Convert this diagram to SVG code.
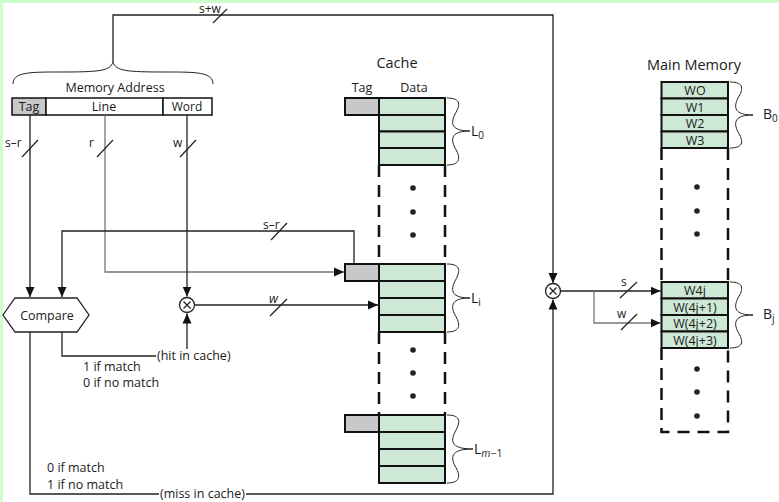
<svg xmlns="http://www.w3.org/2000/svg" width="779" height="502" viewBox="0 0 779 502">
<defs>
<marker id="ah" markerUnits="userSpaceOnUse" markerWidth="10" markerHeight="10" viewBox="0 0 10 10" refX="10" refY="5" orient="auto">
<path d="M0,0.5 L10,5 L0,9.5 Z" fill="#111"/>
</marker>
<style>
text{font-family:"Open Sans","Liberation Sans",sans-serif;fill:#1a1a1a;}
.t12{font-size:12.5px;}
.t11{font-size:12px;}
.t14{font-size:14.5px;}
.lb{font-size:14px;}
.mid{text-anchor:middle;}
.c{fill:none;stroke:#222;stroke-width:1.3;}
.g{fill:none;stroke:#777;stroke-width:1.3;}
.sl{fill:none;stroke:#222;stroke-width:1.2;}
.cell{fill:#cde8d5;stroke:#111;stroke-width:2;}
.tag{fill:#c8c8cb;stroke:#111;stroke-width:2;}
.dash{fill:none;stroke:#111;stroke-width:2.5;stroke-dasharray:12 8;}
.br{fill:none;stroke:#222;stroke-width:1;}
.dot{fill:#222;}
</style>
</defs>
<rect x="0" y="0" width="779" height="502" fill="#fff"/>
<rect x="0" y="0" width="3" height="502" fill="#ccffcc"/>
<rect x="0" y="0" width="779" height="3" fill="#ccffcc"/>

<g id="memory-address">
<path class="br" d="M13,84 C13,72 30,72 60,72 C100,72 110,71 113,62 C116,71 126,72 166,72 C196,72 213,72 213,84" stroke-width="1.3"/>
<text class="t12 mid" x="115" y="92">Memory Address</text>
<rect x="12" y="98" width="34" height="17" fill="#c8c8cb" stroke="#111" stroke-width="1.5"/>
<rect x="46" y="98" width="117" height="17" fill="#fff" stroke="#111" stroke-width="1.5"/>
<rect x="163" y="98" width="49" height="17" fill="#fff" stroke="#111" stroke-width="1.5"/>
<text class="t12 mid" x="29" y="111">Tag</text>
<text class="t12 mid" x="104" y="111">Line</text>
<text class="t11 mid" x="187" y="111">Word</text>
</g>

<g id="compare">
<path d="M3,315 L15,298 L77,298 L89,315 L77,332 L15,332 Z" fill="#fff" stroke="#222" stroke-width="1.3"/>
<text class="t12 mid" x="47" y="320">Compare</text>
</g>

<g id="mux1">
<circle cx="187" cy="305" r="7.5" fill="#fff" stroke="#222" stroke-width="1.3"/>
<path d="M183.5,301.5 L190.5,308.5 M190.5,301.5 L183.5,308.5" stroke="#222" stroke-width="1.2"/>
</g>

<g id="mux2">
<circle cx="553" cy="291" r="7.5" fill="#fff" stroke="#222" stroke-width="1.3"/>
<path d="M549.5,287.5 L556.5,294.5 M556.5,287.5 L549.5,294.5" stroke="#222" stroke-width="1.2"/>
</g>

<g id="cache">
<text class="t14 mid" x="397" y="68">Cache</text>
<text class="t12 mid" x="362" y="92">Tag</text>
<text class="t12 mid" x="414" y="92">Data</text>
<rect class="tag" x="345" y="98" width="34" height="17"/>
<rect class="cell" x="379" y="98" width="66" height="17"/>
<rect class="cell" x="379" y="115" width="66" height="16.5"/>
<rect class="cell" x="379" y="131.5" width="66" height="16.5"/>
<rect class="cell" x="379" y="148" width="66" height="17"/>
<path class="br" d="M447,98 C462,98 460,106 455,114 C450,124 452,131 470,131 C452,131 450,138 455,148 C460,156 462,165 447,165"/>
<text class="lb" x="471" y="136">L<tspan font-size="10" dy="3">0</tspan></text>
<path class="dash" d="M379,165 V264 M445,165 V264"/>
<circle class="dot" cx="413" cy="188" r="2.8"/>
<circle class="dot" cx="413" cy="212" r="2.8"/>
<circle class="dot" cx="413" cy="235" r="2.8"/>
<rect class="tag" x="345" y="264" width="34" height="17"/>
<rect class="cell" x="379" y="264" width="66" height="17"/>
<rect class="cell" x="379" y="281" width="66" height="17"/>
<rect class="cell" x="379" y="298" width="66" height="17"/>
<rect class="cell" x="379" y="315" width="66" height="17"/>
<path class="br" d="M447,264 C462,264 460,272 455,281 C450,291 452,298 470,298 C452,298 450,305 455,315 C460,323 462,332 447,332"/>
<text class="lb" x="471" y="303">L<tspan font-size="10" dy="3">i</tspan></text>
<path class="dash" d="M379,332 V415 M445,332 V415"/>
<circle class="dot" cx="413" cy="350" r="2.8"/>
<circle class="dot" cx="413" cy="373" r="2.8"/>
<circle class="dot" cx="413" cy="396" r="2.8"/>
<rect class="tag" x="345" y="415" width="34" height="17"/>
<rect class="cell" x="379" y="415" width="66" height="17"/>
<rect class="cell" x="379" y="432" width="66" height="17"/>
<rect class="cell" x="379" y="449" width="66" height="17"/>
<rect class="cell" x="379" y="466" width="66" height="17"/>
<path class="br" d="M447,415 C462,415 460,423 455,432 C450,442 452,449 473,449 C452,449 450,456 455,466 C460,474 462,483 447,483"/>
<text class="lb" x="474" y="454">L<tspan font-size="10.5" dy="3"><tspan font-style="italic">m</tspan>−1</tspan></text>
</g>

<g id="main-memory">
<text class="t14 mid" x="694" y="70">Main Memory</text>
<rect class="cell" x="661.5" y="82" width="66.5" height="16.5"/>
<rect class="cell" x="661.5" y="98.5" width="66.5" height="16.5"/>
<rect class="cell" x="661.5" y="115" width="66.5" height="16.5"/>
<rect class="cell" x="661.5" y="131.5" width="66.5" height="16.5"/>
<text class="t12 mid" x="695" y="95">WO</text>
<text class="t12 mid" x="695" y="111.5">W1</text>
<text class="t12 mid" x="695" y="128">W2</text>
<text class="t12 mid" x="695" y="144.5">W3</text>
<path class="br" d="M730,82 C745,82 743,90 738,98 C733,108 735,115 753,115 C735,115 733,122 738,132 C743,140 745,148 730,148"/>
<text class="lb" x="763" y="119">B<tspan font-size="10" dy="3">0</tspan></text>
<path class="dash" d="M661.5,148 V282 M728,148 V282"/>
<circle class="dot" cx="697" cy="187" r="2.8"/>
<circle class="dot" cx="697" cy="211" r="2.8"/>
<circle class="dot" cx="697" cy="234" r="2.8"/>
<rect class="cell" x="661.5" y="282" width="66.5" height="16.5"/>
<rect class="cell" x="661.5" y="298.5" width="66.5" height="16.5"/>
<rect class="cell" x="661.5" y="315" width="66.5" height="16.5"/>
<rect class="cell" x="661.5" y="331.5" width="66.5" height="16.5"/>
<text class="t12 mid" x="695" y="295">W4j</text>
<text class="t12 mid" x="695" y="311.5">W(4j+1)</text>
<text class="t12 mid" x="695" y="328">W(4j+2)</text>
<text class="t12 mid" x="695" y="344.5">W(4j+3)</text>
<path class="br" d="M730,282 C745,282 743,290 738,298 C733,308 735,315 753,315 C735,315 733,322 738,332 C743,340 745,348 730,348"/>
<text class="lb" x="763" y="319">B<tspan font-size="10" dy="3">j</tspan></text>
<path class="dash" d="M661.5,348 V432 H728 V348"/>
<circle class="dot" cx="697" cy="369" r="2.8"/>
<circle class="dot" cx="697" cy="392" r="2.8"/>
<circle class="dot" cx="697" cy="416" r="2.8"/>
</g>

<g id="connectors">
<path class="c" d="M113,62 V15 H553 V283" marker-end="url(#ah)"/>
<line class="sl" x1="213" y1="23" x2="227" y2="9"/>
<text class="t11" x="199" y="13">s+w</text>
<path class="c" d="M30,115 V297" marker-end="url(#ah)"/>
<line class="sl" x1="22" y1="157" x2="38" y2="140"/>
<text class="t11" x="5" y="147">s–r</text>
<path class="g" d="M105,115 V272 H344" marker-end="url(#ah)"/>
<line class="sl" x1="97" y1="157" x2="113" y2="140"/>
<text class="t11" x="89" y="147">r</text>
<path class="c" d="M187,115 V296.5" marker-end="url(#ah)"/>
<line class="sl" x1="180" y1="157" x2="196" y2="140"/>
<text class="t11" x="173" y="147">w</text>
<path class="c" d="M354,264 V231 H62 V297" marker-end="url(#ah)"/>
<line class="sl" x1="271" y1="240" x2="287" y2="223"/>
<text class="t11" x="263" y="229">s–r</text>
<path class="c" d="M194.5,305 H378" marker-end="url(#ah)"/>
<line class="sl" x1="270" y1="316" x2="287" y2="299"/>
<text class="t12" x="269" y="303" font-style="italic" font-family="Liberation Serif, serif">w</text>
<path class="c" d="M62,332 V356 H156"/>
<text class="t12" x="157" y="360">(hit in cache)</text>
<path class="c" d="M187,349 V313.5" marker-end="url(#ah)"/>
<text class="t12" x="83" y="371">1 if match</text>
<text class="t12" x="83" y="387">0 if no match</text>
<path class="c" d="M30,332 V494 H159"/>
<text class="t12" x="160" y="498">(miss in cache)</text>
<path class="c" d="M246,494 H553 V299.5" marker-end="url(#ah)"/>
<text class="t12" x="47" y="472">0 if match</text>
<text class="t12" x="47" y="489">1 if no match</text>
<path class="c" d="M560.5,291 H660.5" marker-end="url(#ah)"/>
<line class="sl" x1="620" y1="298" x2="637" y2="282"/>
<text class="t11" x="621" y="286">s</text>
<path class="g" d="M594,291 V323 H660.5" marker-end="url(#ah)"/>
<line class="sl" x1="621" y1="330" x2="637" y2="314"/>
<text class="t11" x="617" y="318">w</text>
</g>
</svg>
